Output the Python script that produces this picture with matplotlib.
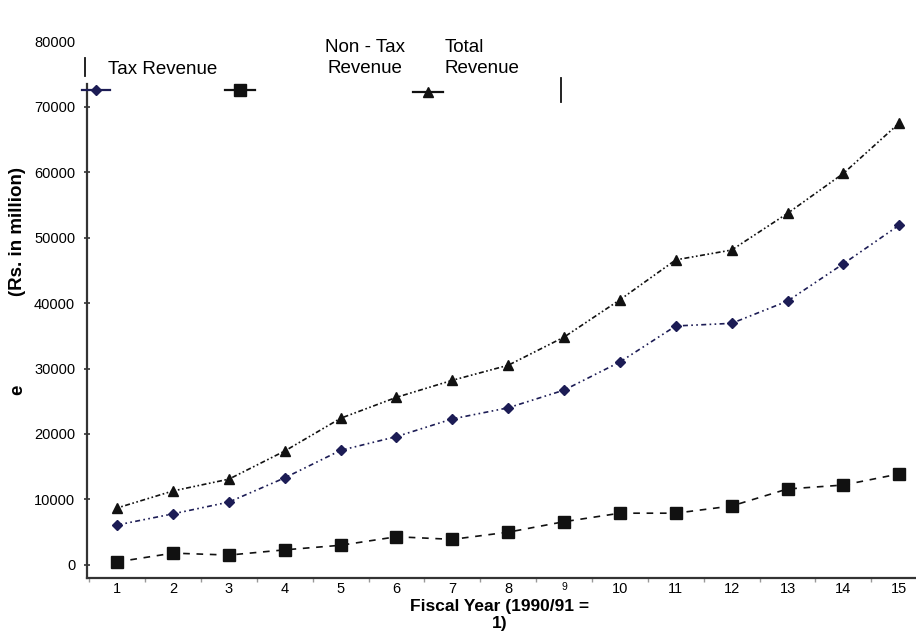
import matplotlib.pyplot as plt
from matplotlib.lines import Line2D
import numpy as np

plt.rcParams["font.family"] = ["Liberation Sans", "DejaVu Sans"]
plt.rcParams["font.size"] = 10

# Revenue by fiscal year (Rs. in million), 1990/91 = year 1
years = list(range(1, 16))
tax_revenue = [6100, 7800, 9600, 13300, 17500, 19600, 22300, 24000,
               26700, 31000, 36500, 36900, 40300, 46000, 51900]
non_tax_revenue = [460, 1800, 1500, 2300, 3000, 4300, 3900, 5000,
                   6600, 7900, 7900, 9000, 11600, 12200, 13900]
total_revenue = [8700, 11300, 13100, 17400, 22400, 25600, 28200, 30500,
                 34800, 40500, 46600, 48100, 53700, 59800, 67500]
y_ticks = list(range(0, 80001, 10000))

NAVY = "#1c1c55"
INK = "#111111"

fig = plt.figure(figsize=(9.16, 6.33), dpi=100)
ax = fig.add_axes([0.095, 0.0869, 0.905, 0.848])

style_tax = dict(color=NAVY, ls=(0, (3, 2, 1, 2, 1, 2)), lw=1.2,
                 marker="D", ms=5.5, mfc=NAVY, mec=NAVY)
style_non = dict(color=INK, ls=(0, (4, 4)), lw=1.2,
                 marker="s", ms=8, mfc=INK, mec=INK)
style_tot = dict(color=INK, ls=(0, (1, 1.5, 1, 1.5, 3, 1.5)), lw=1.2,
                 marker="^", ms=7.5, mfc=INK, mec=INK)

ax.plot(years, tax_revenue, **style_tax)
ax.plot(years, non_tax_revenue, **style_non)
ax.plot(years, total_revenue, **style_tot)

ax.set_xlim(0.46, 15.3)
ax.set_ylim(-2000, 80000)

for side in ["top", "right"]:
    ax.spines[side].set_visible(False)
for side in ["left", "bottom"]:
    ax.spines[side].set_color("#333333")
    ax.spines[side].set_linewidth(1.6)
ax.spines["left"].set_bounds(-2000, 73500)

ax.set_xticks(years)
ax.set_xticklabels([str(y) for y in years])
ax.set_xticks(np.arange(0.5, 15.5, 1), minor=True)
ax.tick_params(axis="x", which="major", length=0, pad=3, labelsize=10.5)
ax.tick_params(axis="x", which="minor", length=3, width=1, color="#999999",
               direction="out")
ax.get_xticklabels()[8].set_fontsize(7.5)

ax.set_yticks(y_ticks)
ax.set_yticklabels([str(v) for v in y_ticks])
ax.tick_params(axis="y", which="major", length=5, width=1.2, color="#333333",
               direction="inout", pad=6, labelsize=10.5)
# the top label floats above the shortened spine, so no tick for it
ax.yaxis.get_major_ticks()[-1].tick1line.set_visible(False)

# axis titles
fig.text(500 / 916, 1 - 615 / 633, "Fiscal Year (1990/91 =\n1)",
         ha="center", va="center", fontsize=12.5, fontweight="bold",
         linespacing=1.1)
fig.text(18 / 916, 1 - 232 / 633, "(Rs. in million)", rotation=90,
         ha="center", va="center", fontsize=13.5, fontweight="bold")
fig.text(18 / 916, 1 - 390 / 633, "e", rotation=90,
         ha="center", va="center", fontsize=13.5, fontweight="bold")

# legend, labels sitting above their line samples
def px(x, y):
    return x / 916, 1 - y / 633

def sample(x0, x1, y, style):
    xs = [x0 / 916, x1 / 916]
    ys = [1 - y / 633] * 2
    st = dict(style)
    marker = st.pop("marker")
    ms = st.pop("ms")
    mfc = st.pop("mfc")
    mec = st.pop("mec")
    st["ls"] = "-"
    st["lw"] = 1.6
    fig.add_artist(Line2D(xs, ys, transform=fig.transFigure, **st))
    cx = (x0 + x1) / 2 / 916
    fig.add_artist(Line2D([cx], [ys[0]], transform=fig.transFigure,
                          marker=marker, ms=ms, mfc=mfc, mec=mec, ls="none"))

sample(82, 110, 90, style_tax)
sample(225, 255, 90, style_non)
sample(413, 443, 92, style_tot)

fig.text(*px(108, 69), "Tax Revenue", ha="left", va="center", fontsize=13.5)
fig.text(*px(365, 58), "Non - Tax\nRevenue", ha="center", va="center",
         fontsize=13.5, linespacing=1.35)
fig.text(*px(445, 58), "Total\nRevenue", ha="left", va="center",
         fontsize=13.5, linespacing=1.35)

fig.add_artist(Line2D([85 / 916] * 2, [1 - 58 / 633, 1 - 76 / 633],
                      transform=fig.transFigure, color=INK, lw=1.3))
fig.add_artist(Line2D([561 / 916] * 2, [1 - 78 / 633, 1 - 102 / 633],
                      transform=fig.transFigure, color=INK, lw=1.3))

fig.savefig("out.png", dpi=100)
